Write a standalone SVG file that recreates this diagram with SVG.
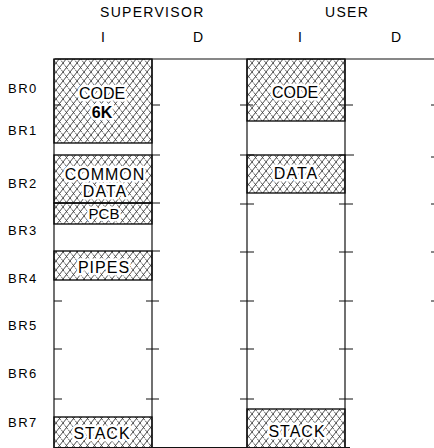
<svg xmlns="http://www.w3.org/2000/svg" width="434" height="448" viewBox="0 0 434 448">
<defs>
<pattern id="hatch" patternUnits="userSpaceOnUse" width="7" height="9">
<path d="M0,9 L7,0 M-1,1.3 L1,-1.3 M6,10.3 L8,7.7" stroke="#000" stroke-width="0.7" fill="none"/>
<path d="M0,0 L7,9 M-1,7.7 L1,10.3 M6,-1.3 L8,1.3" stroke="#000" stroke-width="0.7" stroke-dasharray="2,1" fill="none"/>
</pattern>
<style>
.t{font-family:"Liberation Sans",Arial,sans-serif;fill:#000;}
.h{font-size:14px;letter-spacing:1.3px;}
.r{font-size:13px;letter-spacing:1.5px;}
.b{font-size:15px;text-anchor:middle;stroke:#fff;stroke-width:5px;paint-order:stroke;stroke-linejoin:round;}
.w{font-size:16px;letter-spacing:1px;}
.c{font-size:16px;}
.box{fill:url(#hatch);stroke:#000;stroke-width:1.3;}
.ln{stroke:#111;stroke-width:1.2;fill:none;}
.tk{stroke:#111;stroke-width:1;fill:none;}
</style>
</defs>
<rect width="434" height="448" fill="#fff"/>

<g id="headers">
<text class="t h" x="100" y="17">SUPERVISOR</text>
<text class="t h" x="325" y="17">USER</text>
<text class="t h" x="101" y="42">I</text>
<text class="t h" x="193" y="42">D</text>
<text class="t h" x="298" y="42">I</text>
<text class="t h" x="391" y="42">D</text>
</g>

<g id="rows">
<text class="t r" x="8" y="93">BR0</text>
<text class="t r" x="8" y="135">BR1</text>
<text class="t r" x="8" y="188">BR2</text>
<text class="t r" x="8" y="235">BR3</text>
<text class="t r" x="8" y="283">BR4</text>
<text class="t r" x="8" y="330">BR5</text>
<text class="t r" x="8" y="378">BR6</text>
<text class="t r" x="8" y="427">BR7</text>
</g>

<g id="sup-code">
<rect class="box" x="54" y="59" width="98" height="84"/>
<text class="t b c" x="102" y="99">CODE</text>
<text class="t b c" x="102" y="118" font-weight="bold">6K</text>
</g>
<g id="sup-common">
<rect class="box" x="54" y="155" width="98" height="48"/>
<text class="t b w" x="105" y="180">COMMON</text>
<text class="t b w" x="105" y="197">DATA</text>
</g>
<g id="sup-pcb">
<rect class="box" x="54" y="203" width="98" height="21"/>
<text class="t b" x="104" y="219">PCB</text>
</g>
<g id="sup-pipes">
<rect class="box" x="54" y="251" width="98" height="29"/>
<text class="t b w" x="104" y="273">PIPES</text>
</g>
<g id="sup-stack">
<rect class="box" x="54" y="417" width="98" height="31"/>
<text class="t b w" x="102" y="439">STACK</text>
</g>

<g id="user-code">
<rect class="box" x="247" y="59" width="98" height="62"/>
<text class="t b c" x="295" y="98">CODE</text>
</g>
<g id="user-data">
<rect class="box" x="247" y="155" width="98" height="38"/>
<text class="t b w" x="296" y="179">DATA</text>
</g>
<g id="user-stack">
<rect class="box" x="247" y="409" width="98" height="39"/>
<text class="t b w" x="297" y="437">STACK</text>
</g>

<g id="connectors">
<line class="ln" x1="55" y1="59" x2="434" y2="59" stroke-width="1.5"/>
<line class="ln" x1="54" y1="59" x2="54" y2="448"/>
<line class="ln" x1="152" y1="59" x2="152" y2="448"/>
<line class="ln" x1="247" y1="59" x2="247" y2="448"/>
<line class="ln" x1="345" y1="59" x2="345" y2="448"/>
<line class="ln" x1="54" y1="447.5" x2="350" y2="447.5"/>
<path class="tk" d="M54,105 H61 M54,301 H62 M54,349 H62 M54,399 H62"/>
<path class="tk" d="M152,105 H160 M152,155 H160 M152,203 H160 M152,251 H160 M146,301 H159 M146,349 H159 M146,399 H159"/>
<path class="tk" d="M240,105 H253 M240,155 H254 M240,204 H254 M240,252 H254 M240,301 H254 M240,349 H254 M240,399 H254"/>
<path class="tk" d="M339,105 H353 M339,155 H354 M339,204 H353 M339,252 H353 M339,301 H353 M339,349 H353 M339,399 H353"/>
<path class="tk" d="M431,105 H434 M431,157 H434 M431,204 H434 M431,252 H434 M431,301 H434"/>
</g>
</svg>
